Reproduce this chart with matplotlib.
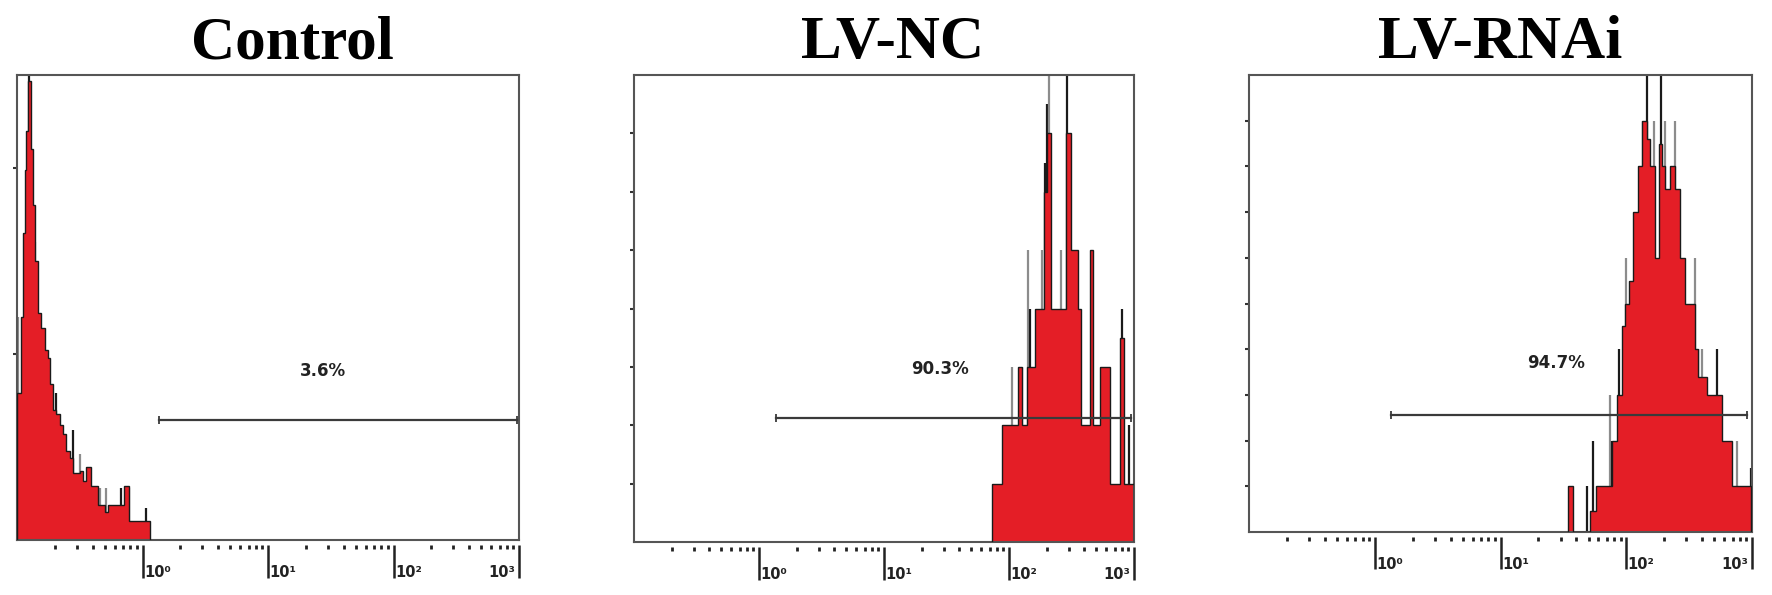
import matplotlib.pyplot as plt
import numpy as np

# ---- data (x values as log10 of intensity, y as event counts) ----
titles = ["Control", "LV-NC", "LV-RNAi"]
percent_labels = ["3.6%", "90.3%", "94.7%"]
xtick_labels = ["10\u2070", "10\u00b9", "10\u00b2", "10\u00b3"]

ctrl_edges_log = [-1.0, -0.97, -0.952, -0.936, -0.928, -0.912, -0.888, -0.872, -0.856,
                  -0.832, -0.808, -0.776, -0.752, -0.736, -0.712, -0.688, -0.656, -0.632,
                  -0.608, -0.576, -0.552, -0.496, -0.472, -0.448, -0.408, -0.354, -0.30,
                  -0.272, -0.15, -0.109, 0.056]
ctrl_counts = [7.9, 12.0, 16.5, 19.9, 22.0, 24.7, 21.0, 18.0, 15.0, 12.2,
               11.4, 10.2, 9.8, 8.4, 7.0, 6.8, 6.2, 5.7, 4.8, 4.4,
               3.6, 3.7, 3.2, 3.9, 2.9, 1.9, 1.5, 1.9, 2.9, 1.0]
ctrl_spike_log = [-0.99, -0.905, -0.86, -0.69, -0.55, -0.5, -0.34, -0.29, -0.17, -0.105, 0.03]
ctrl_spike_h = [12.0, 25.3, 16.0, 7.9, 5.9, 4.6, 2.8, 2.8, 2.8, 2.8, 1.7]
ctrl_spike_c = ["gray", "black", "gray", "black", "black", "gray", "gray", "gray", "black", "gray", "black"]

nc_edges_log = [1.864, 1.944, 2.075, 2.103, 2.143, 2.211, 2.279, 2.306, 2.333, 2.456, 2.497,
                2.551, 2.578, 2.646, 2.673, 2.728, 2.810, 2.840, 2.891, 2.918, 3.0]
nc_counts = [1, 2, 3, 2, 3, 4, 6, 7, 4, 7, 5, 4, 2, 5, 2, 3, 1, 1, 3.5, 1]
nc_spike_log = [2.02, 2.10, 2.15, 2.17, 2.26, 2.29, 2.30, 2.32, 2.415, 2.464, 2.537, 2.66, 2.74, 2.80, 2.905, 2.96]
nc_spike_h = [3, 3, 5, 4, 5, 6.5, 7.5, 8.2, 5, 8.2, 5, 5, 3, 3, 4, 2]
nc_spike_c = ["gray", "gray", "gray", "black", "gray", "black", "black", "gray", "gray", "black",
              "gray", "gray", "gray", "gray", "black", "black"]

rnai_edges_log = [1.539, 1.574, 1.712, 1.762, 1.884, 1.924, 1.964, 1.990, 2.017, 2.056, 2.096,
                  2.123, 2.163, 2.189, 2.229, 2.256, 2.282, 2.308, 2.348, 2.388, 2.427, 2.467,
                  2.547, 2.573, 2.640, 2.759, 2.839, 2.990]
rnai_counts = [1, 0, 0.45, 1, 2, 3, 4.5, 5, 5.5, 7, 8, 9, 8.6, 8, 6, 8.5, 8, 7.5, 8, 7.5,
               6, 5, 4, 3.4, 3, 2, 1]
rnai_spike_log = [1.69, 1.735, 1.872, 1.884, 1.944, 2.0, 2.07, 2.136, 2.163, 2.216, 2.276,
                  2.308, 2.383, 2.40, 2.547, 2.573, 2.60, 2.72, 2.80, 2.88, 2.99]
rnai_spike_h = [1, 2, 3, 2, 4, 6, 6.5, 9, 10.2, 9, 10.2, 9, 9, 6, 6, 4, 4, 4, 2, 2, 1.4]
rnai_spike_c = ["black", "black", "gray", "black", "black", "gray", "black", "gray", "black", "gray",
                "black", "gray", "gray", "black", "gray", "black", "gray", "black", "gray", "gray", "black"]

gate_lo_log = [0.13, 0.137, 0.128]
gate_hi_log = [2.98, 2.973, 2.959]
gate_y = [6.46, 2.13, 2.57]
label_x_log = [1.439, 1.449, 1.44]
label_y = [9.1, 2.96, 3.7]

y_max = [25, 8, 10]
y_ticks = [[10, 20], [1, 2, 3, 4, 5, 6, 7], [1, 2, 3, 4, 5, 6, 7, 8, 9]]

panels = [
    (ctrl_edges_log, ctrl_counts, ctrl_spike_log, ctrl_spike_h, ctrl_spike_c),
    (nc_edges_log, nc_counts, nc_spike_log, nc_spike_h, nc_spike_c),
    (rnai_edges_log, rnai_counts, rnai_spike_log, rnai_spike_h, rnai_spike_c),
]

RED = "#E41E26"
SPIKE_COLORS = {"black": "#1a1a1a", "gray": "#8c8c8c"}

fig = plt.figure(figsize=(17.72, 5.95), dpi=100)
rects = [
    [0.0096, 0.0924, 0.2833, 0.7815],
    [0.3578, 0.0891, 0.2822, 0.7848],
    [0.7049, 0.1059, 0.2839, 0.7680],
]
title_x = [0.548, 0.516, 0.5]

major_x = [1, 10, 100, 1000]
minor_x = [m * 10.0 ** k for k in range(-1, 3) for m in range(2, 10)]

for i, (edges_log, counts, sp_log, sp_h, sp_c) in enumerate(panels):
    ax = fig.add_axes(rects[i])
    ax.set_xscale("log")
    ax.set_xlim(0.1, 1000)
    ax.set_ylim(0, y_max[i])

    edges = 10 ** np.array(edges_log)
    ax.vlines(10 ** np.array(sp_log), 0, sp_h, colors=[SPIKE_COLORS[c] for c in sp_c],
              lw=1.6, zorder=1)
    ax.stairs(counts, edges, fill=True, color=RED, zorder=2)
    ax.stairs(counts, edges, color="#1a1a1a", lw=1.0, zorder=3)

    # gate bar and percentage
    ax.plot([10 ** gate_lo_log[i], 10 ** gate_hi_log[i]], [gate_y[i], gate_y[i]],
            color="#3a3a3a", lw=1.6, marker="|", ms=6, mew=1.3, zorder=4)
    ax.text(10 ** label_x_log[i], label_y[i], percent_labels[i], ha="center", va="center",
            fontsize=12, fontweight="bold", color="#222222", zorder=5)

    # axes look
    for s in ax.spines.values():
        s.set_color("#555555")
        s.set_linewidth(1.5)
    ax.tick_params(axis="x", which="both", length=0, labelbottom=False)
    ax.set_yticks(y_ticks[i])
    ax.tick_params(axis="y", direction="out", length=3, width=1.5, color="#333333",
                   labelleft=False)

    # FACS-style log ticks below the axis
    trans = ax.get_xaxis_transform()
    ax.plot(minor_x, [-0.016] * len(minor_x), transform=trans, ls="none", marker="|",
            ms=3.5, mew=2.0, color="#222222", clip_on=False)
    ax.vlines(major_x, -0.082, -0.01, transform=trans, colors="#222222", lw=1.8,
              clip_on=False)
    for j, (mx, lab) in enumerate(zip(major_x, xtick_labels)):
        last = j == len(major_x) - 1
        ax.annotate(lab, (mx, -0.08), xycoords=trans,
                    xytext=(-3 if last else 1, 0), textcoords="offset points",
                    ha="right" if last else "left", va="baseline",
                    fontsize=10.5, fontweight="bold", color="#222222")

    ax.set_title(titles[i], fontsize=44, fontweight="bold", family="Liberation Serif",
                 x=title_x[i], pad=12)

fig.savefig("out.png", dpi=100)
